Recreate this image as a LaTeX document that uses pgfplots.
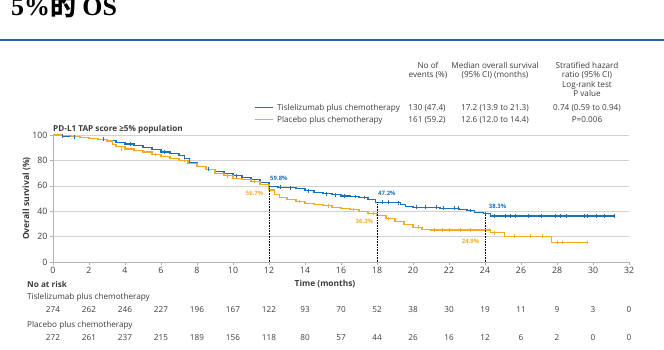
\documentclass[border=0pt]{standalone}
\usepackage{fontspec}
\setmainfont{Open Sans}
\newfontfamily\titlefont{Liberation Serif}
\newfontfamily\cjk{Noto Sans CJK SC}
\usepackage{pgfplots}
\pgfplotsset{compat=1.18}

\definecolor{tisBlue}{RGB}{28,112,182}
\definecolor{plaOrange}{RGB}{246,170,36}
\definecolor{ruleBlue}{RGB}{47,95,175}
\definecolor{txtGray}{RGB}{60,60,60}

\pgfplotstableread{
t s
0 100
0.3 99.6
0.6 99.2
1.0 98.5
1.5 98.2
2.0 97.6
2.5 96.8
3.0 95.8
3.5 94.3
4.0 92.9
4.5 91.8
5.0 90.0
5.5 88.3
6.0 86.6
6.5 85.4
7.0 83.9
7.3 81.5
7.6 78.4
8.0 75.2
8.5 73.0
9.0 71.3
9.5 69.4
10.0 67.9
10.5 66.6
11.0 65.2
11.5 62.8
12.0 59.8
12.5 58.9
13.0 58.4
13.5 57.6
14.0 56.0
14.5 54.8
15.0 53.7
15.5 52.8
16.0 52.0
16.5 51.5
17.0 50.8
17.5 49.5
17.9 47.2
18.5 47.2
19.0 46.6
19.3 45.2
19.6 44.0
20.0 43.1
21.5 42.3
22.6 41.5
23.0 40.5
23.4 39.2
23.9 38.3
24.3 36.2
31.2 36.2
}\tisdata

\pgfplotstableread{
t s
0 100
0.5 99.4
1.0 98.8
1.5 98.0
2.0 97.2
2.5 96.5
3.0 95.3
3.3 92.5
3.5 91.0
4.0 89.0
4.5 87.9
5.0 86.6
5.5 84.8
6.0 83.0
6.5 81.4
7.0 80.0
7.5 77.8
8.0 75.2
8.5 72.5
9.0 70.0
9.5 67.8
10.0 66.0
10.5 65.0
11.0 63.4
11.5 60.8
12.0 56.7
12.3 53.5
12.6 51.0
13.0 49.0
13.5 47.6
14.0 46.4
14.5 45.0
15.0 44.2
15.5 43.2
16.0 42.4
16.5 41.2
17.0 39.7
17.5 38.2
18.0 36.3
18.5 34.2
19.0 31.8
19.5 29.2
20.0 27.4
20.5 25.8
21.0 25.2
24.3 23.0
25.1 20.3
27.7 15.5
29.7 15.5
}\pladata

% censored observations
\pgfplotstableread{
t s
0.5 99.2
1.2 98.5
2.8 96.8
4.3 92.9
6.2 86.6
8.6 73.0
10.2 67.9
12.6 58.9
13.2 58.4
14.2 56.0
15.2 53.7
15.7 52.8
16.2 52.0
16.8 51.5
17.3 50.8
18.3 47.2
18.6 47.2
19.2 46.6
20.2 43.1
20.7 43.1
21.3 43.1
21.7 42.3
22.3 42.3
22.5 42.3
23.2 40.5
24.0 38.3
24.5 36.2
25.1 36.2
25.4 36.2
25.7 36.2
26.4 36.2
27.1 36.2
27.9 36.2
28.2 36.2
28.5 36.2
29.5 36.2
29.7 36.2
30.2 36.2
30.6 36.2
31.2 36.2
}\tiscens

\pgfplotstableread{
t s
3.8 89.0
5.7 84.8
7.3 80.0
9.7 67.8
11.2 63.4
13.7 47.6
15.3 44.2
16.7 41.2
17.8 38.2
18.6 34.2
20.3 27.4
21.2 25.2
21.6 25.2
22.0 25.2
22.6 25.2
23.2 25.2
24.5 23.0
25.6 20.3
26.5 20.3
27.2 20.3
28.0 15.5
28.3 15.5
29.7 15.5
}\placens

\begin{document}
\begin{tikzpicture}[x=1bp,y=1bp,font=\fontsize{8.2}{10}\selectfont]
\path[use as bounding box] (0,0) rectangle (664,349);

% slide heading and rule
\node[anchor=base west,inner sep=0pt,font=\titlefont\bfseries\fontsize{26}{28}\selectfont] at (11,334) {5\%{\cjk\bfseries 的} OS};
\fill[ruleBlue] (0,308.4) rectangle (664,309.8);

% summary table header
\begin{scope}[every node/.style={anchor=base,inner sep=0pt,text=txtGray}]
\node at (428,281) {No of};
\node at (428,272) {events (\%)};
\node at (495,281) {Median overall survival};
\node at (495,272) {(95\% CI) (months)};
\node at (587,281) {Stratified hazard};
\node at (587,272) {ratio (95\% CI)};
\node at (587,262) {Log-rank test};
\node at (587,253) {P value};
\node at (427,239) {130 (47.4)};
\node at (495,239) {17.2 (13.9 to 21.3)};
\node at (587,239) {0.74 (0.59 to 0.94)};
\node at (427,227) {161 (59.2)};
\node at (495,227) {12.6 (12.0 to 14.4)};
\node at (587,227) {P=0.006};
\node[anchor=base west] at (277,239) {Tislelizumab plus chemotherapy};
\node[anchor=base west] at (277,227) {Placebo plus chemotherapy};
\end{scope}
\draw[tisBlue,line width=1pt] (255,241.8) -- (273,241.8);
\draw[plaOrange,line width=1pt] (255,229.8) -- (273,229.8);

\node[anchor=base west,inner sep=0pt,font=\bfseries\fontsize{8.2}{10}\selectfont,text=txtGray] at (53,218) {PD-L1 TAP score ≥5\% population};

\begin{axis}[
  at={(53bp,87bp)}, anchor=south west,
  scale only axis, width=576bp, height=127bp,
  xmin=0, xmax=32, ymin=0, ymax=100,
  xtick={0,2,...,32}, ytick={0,20,...,100},
  axis x line=bottom, axis y line=left,
  axis line style={-,draw=gray!60,line width=0.6pt},
  tick style={draw=gray!60,line width=0.5pt},
  tick align=outside, major tick length=3bp,
  ymajorgrids, grid style={draw=gray!35,line width=0.6pt},
  ticklabel style={font=\fontsize{8.8}{10}\selectfont,text=txtGray},
  xticklabel style={yshift=1.5bp},
  yticklabel style={xshift=1bp},
  /pgf/number format/assume math mode=true,
  ylabel={\bfseries Overall survival (\%)},
  ylabel style={font=\fontsize{8.6}{10}\selectfont,text=txtGray,yshift=-5bp},
  clip=false,
]
\addplot[tisBlue,line width=1.1pt,const plot] table[x=t,y=s] {\tisdata};
\addplot[plaOrange,line width=1.1pt,const plot] table[x=t,y=s] {\pladata};
\addplot[tisBlue,only marks,mark=|,mark size=1.8pt,mark options={line width=0.6pt}] table[x=t,y=s] {\tiscens};
\addplot[plaOrange,only marks,mark=|,mark size=1.8pt,mark options={line width=0.6pt}] table[x=t,y=s] {\placens};

\addplot[black,densely dotted,line width=0.6pt] coordinates {(12,0) (12,59.8)};
\addplot[black,densely dotted,line width=0.6pt] coordinates {(18,0) (18,47.2)};
\addplot[black,densely dotted,line width=0.6pt] coordinates {(24,0) (24,38.3)};

\begin{scope}[every node/.style={font=\bfseries\fontsize{6}{7}\selectfont,inner sep=0pt}]
\node[text=tisBlue] at (axis cs:12.55,66) {59.8\%};
\node[text=plaOrange] at (axis cs:11.2,54) {56.7\%};
\node[text=tisBlue] at (axis cs:18.55,54) {47.2\%};
\node[text=plaOrange] at (axis cs:17.3,32) {36.3\%};
\node[text=tisBlue] at (axis cs:24.7,44) {38.3\%};
\node[text=plaOrange] at (axis cs:23.2,16) {24.9\%};
\end{scope}
\end{axis}

% number at risk
\begin{scope}[every node/.style={inner sep=0pt,text=txtGray}]
\node[anchor=base,font=\bfseries\fontsize{8.4}{10}\selectfont] at (325,63) {Time (months)};
\node[font=\bfseries\fontsize{8.2}{10}\selectfont,anchor=base west] at (27,62) {No at risk};
\node[anchor=base west] at (27,50) {Tislelizumab plus chemotherapy};
\node[anchor=base west] at (27,22) {Placebo plus chemotherapy};
\foreach \n [count=\i from 0] in {274,262,246,227,196,167,122,93,70,52,38,30,19,11,9,3,0}
  \node[anchor=base] at ({53+36*\i},37) {\n};
\foreach \n [count=\i from 0] in {272,261,237,215,189,156,118,80,57,44,26,16,12,6,2,0,0}
  \node[anchor=base] at ({53+36*\i},9) {\n};
\end{scope}
\end{tikzpicture}
\end{document}
